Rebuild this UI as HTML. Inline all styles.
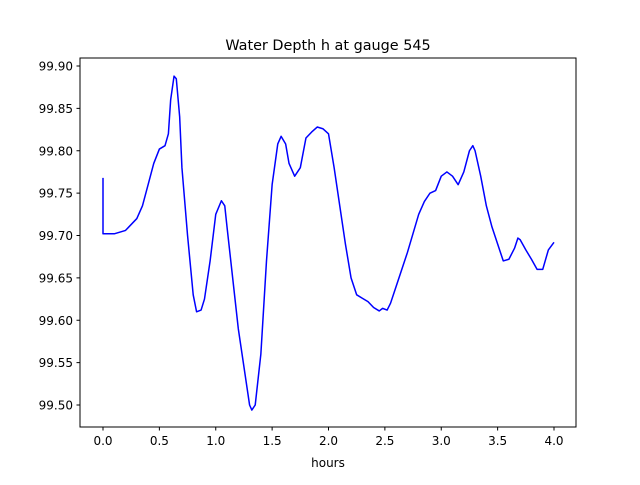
<!DOCTYPE html>
<html><head><meta charset="utf-8"><style>
body{margin:0;background:#fff}
svg text{font-family:"DejaVu Sans","Liberation Sans",sans-serif;fill:#000}
</style></head><body>
<svg id="chart" width="640" height="480" viewBox="0 0 640 480" xmlns="http://www.w3.org/2000/svg">
<rect width="640" height="480" fill="#fff"/>
<text x="328" y="50" font-size="14.4" text-anchor="middle">Water Depth h at gauge 545</text>
<g id="plot"></g>
<rect x="80" y="58" width="496" height="369" fill="none" stroke="#000" stroke-width="1"/>
<text x="328" y="467" font-size="12" text-anchor="middle">hours</text>
</svg>
<script>
const times=[0,0,0.1,0.2,0.3,0.35,0.4,0.45,0.5,0.55,0.58,0.6,0.63,0.65,0.68,0.7,0.75,0.8,0.83,0.87,0.9,0.95,1.0,1.05,1.08,1.1,1.15,1.2,1.25,1.3,1.32,1.35,1.4,1.45,1.5,1.55,1.58,1.62,1.65,1.7,1.75,1.8,1.85,1.9,1.95,2.0,2.05,2.1,2.15,2.2,2.25,2.3,2.35,2.4,2.45,2.48,2.52,2.55,2.6,2.7,2.8,2.85,2.9,2.95,3.0,3.05,3.1,3.15,3.2,3.25,3.28,3.3,3.35,3.4,3.45,3.5,3.55,3.6,3.65,3.68,3.7,3.75,3.8,3.85,3.9,3.95,4.0];
const depths=[99.768,99.702,99.702,99.706,99.72,99.735,99.76,99.785,99.802,99.806,99.82,99.86,99.888,99.885,99.84,99.78,99.70,99.63,99.61,99.612,99.625,99.67,99.725,99.741,99.735,99.71,99.65,99.59,99.545,99.5,99.494,99.5,99.56,99.67,99.76,99.808,99.817,99.808,99.785,99.77,99.78,99.815,99.822,99.828,99.826,99.82,99.78,99.735,99.69,99.65,99.63,99.626,99.622,99.615,99.611,99.614,99.612,99.62,99.64,99.68,99.725,99.74,99.75,99.753,99.77,99.775,99.77,99.76,99.775,99.80,99.806,99.8,99.77,99.735,99.71,99.69,99.67,99.672,99.685,99.697,99.695,99.683,99.672,99.66,99.66,99.683,99.692];
const xTicks=[0,0.5,1,1.5,2,2.5,3,3.5,4];
const xTickLabels=["0.0","0.5","1.0","1.5","2.0","2.5","3.0","3.5","4.0"];
const yTicks=[99.5,99.55,99.6,99.65,99.7,99.75,99.8,99.85,99.9];
const yTickLabels=["99.50","99.55","99.60","99.65","99.70","99.75","99.80","99.85","99.90"];
const xs=t=>103+t*112.75;
const ys=v=>405-(v-99.5)/0.05*42.375;
const NS="http://www.w3.org/2000/svg";
const g=document.getElementById('plot');
function mk(tag,attrs){const e=document.createElementNS(NS,tag);for(const k in attrs)e.setAttribute(k,attrs[k]);g.appendChild(e);return e;}
xTicks.forEach((t,i)=>{
  const l=mk('line',{x1:xs(t),x2:xs(t),y1:427,y2:430.5,stroke:'#000'});
  
  
  const tx=mk('text',{x:xs(t),y:445,'font-size':'12','text-anchor':'middle'});
  tx.textContent=xTickLabels[i];
  
  
});
yTicks.forEach((v,i)=>{
  const l=mk('line',{x1:76.5,x2:80,y1:ys(v),y2:ys(v),stroke:'#000'});
  
  
  const tx=mk('text',{x:73,y:ys(v)+4.5,'font-size':'12','text-anchor':'end'});
  tx.textContent=yTickLabels[i];
  
  
});
const pts=times.map((t,i)=>xs(t).toFixed(2)+','+ys(depths[i]).toFixed(2)).join(' ');
const line=mk('polyline',{points:pts,fill:'none',stroke:'#0000ff','stroke-width':'1.5','stroke-linejoin':'round'});


</script>
</body></html>
